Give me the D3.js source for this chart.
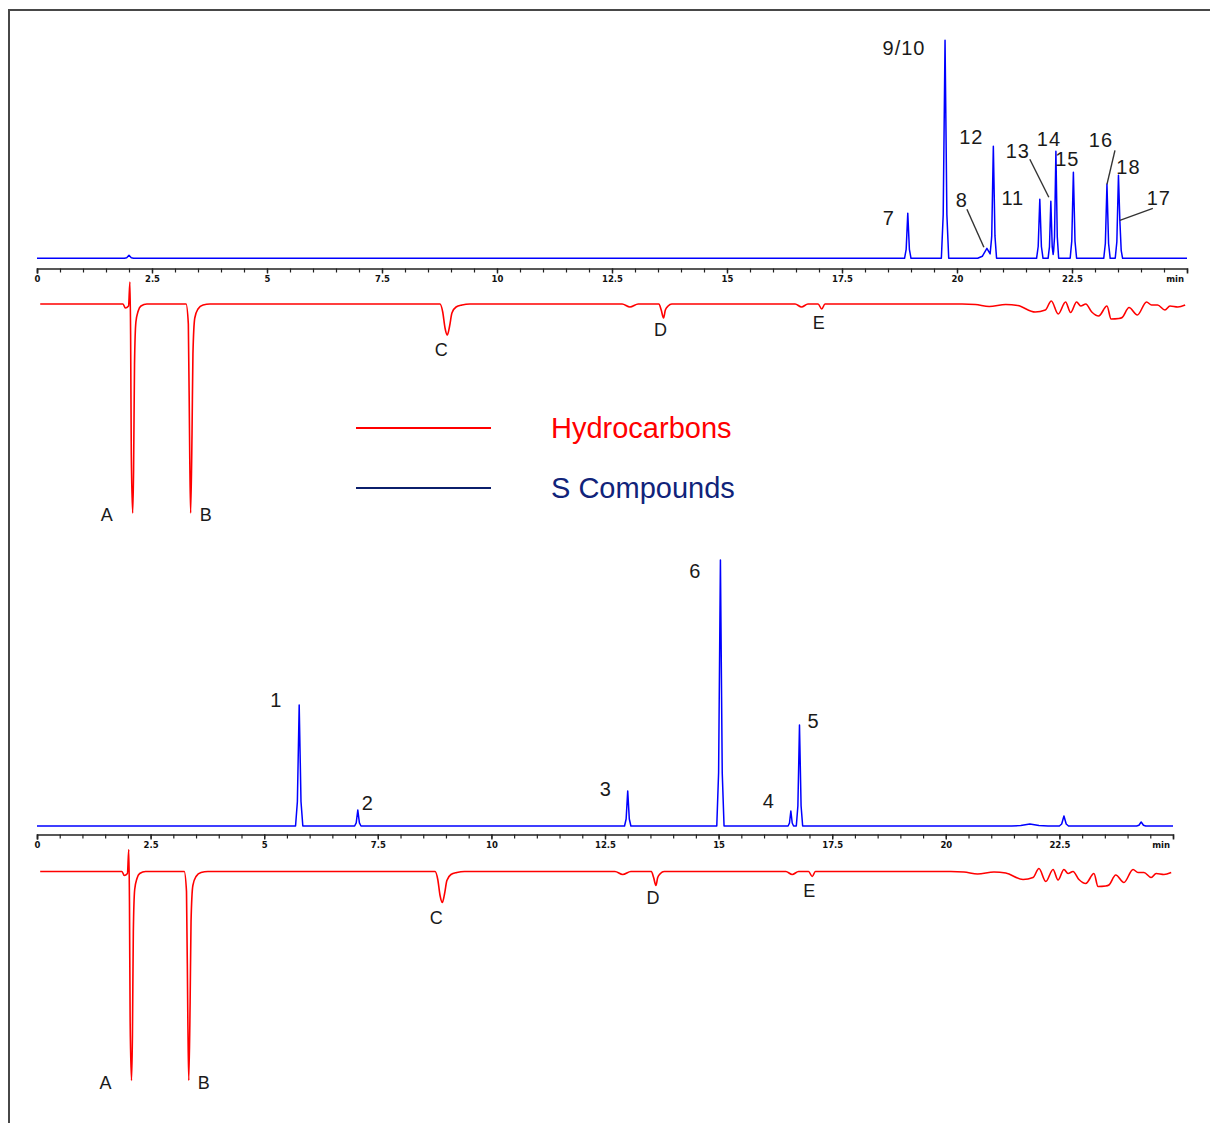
<!DOCTYPE html>
<html>
<head>
<meta charset="utf-8">
<script src="https://cdn.jsdelivr.net/npm/d3@7"></script>
<style>
  body { margin: 0; background: #fff; }
  svg { display: block; }
</style>
</head>
<body>
<svg id="chart" width="1210" height="1123"></svg>
<script>
// ---- retention time axis (minutes) ----
const majorTicks = [0, 2.5, 5, 7.5, 10, 12.5, 15, 17.5, 20, 22.5];
const tickLabels = ["0", "2.5", "5", "7.5", "10", "12.5", "15", "17.5", "20", "22.5"];
const minorTicks = d3.range(0, 25.01, 0.5);
const unitLabel = "min";

// ---- upper run: sulfur channel peaks ----
const upperNames   = ["", "7", "9/10", "8", "12", "11", "13", "14", "15", "16", "18", "17"];
const upperTimes   = [2.0, 18.93, 19.74, 20.65, 20.79, 21.80, 22.04, 22.15, 22.53, 23.26, 23.51, 23.54];
const upperHeights = [3, 45, 218, 10, 112, 59, 57, 107, 86, 74, 83, 38];
const upperWidths  = [0.1, 0.07, 0.08, 0.2, 0.07, 0.07, 0.06, 0.06, 0.07, 0.07, 0.07, 0.06];

// ---- lower run: sulfur channel peaks ----
const lowerNames   = ["1", "2", "3", "6", "4", "5", "", "", ""];
const lowerTimes   = [5.77, 7.06, 13.0, 15.04, 16.59, 16.78, 21.85, 22.6, 24.3];
const lowerHeights = [121, 16, 35, 266, 15, 101, 2, 10, 4];
const lowerWidths  = [0.08, 0.07, 0.07, 0.08, 0.06, 0.07, 0.4, 0.1, 0.1];

// ---- hydrocarbon (FID) trace, plotted inverted ----
const fidTimes = [0.07, 1.87, 1.92, 1.99, 2.02, 2.035, 2.05, 2.08, 2.10, 2.12, 2.15, 2.20, 2.26, 2.39,
  3.24, 3.29, 3.32, 3.34, 3.37, 3.39, 3.43, 3.50, 3.61, 3.76,
  8.76, 8.82, 8.87, 8.92, 8.97, 9.02, 9.11, 9.24, 9.41,
  12.72, 12.89, 13.07,
  13.52, 13.57, 13.62, 13.66, 13.72, 13.80,
  16.48, 16.62, 16.76,
  16.98, 17.06, 17.13,
  20.11, 20.40, 20.70, 21.06, 21.32, 21.70, 21.92, 22.05, 22.20, 22.36, 22.47, 22.60, 22.69, 22.80,
  22.93, 23.08, 23.26, 23.35, 23.52, 23.59, 23.74, 23.92, 24.12, 24.23, 24.36, 24.52, 24.63, 24.80, 24.96];
const fidValues = [0, 0, -4, -2, 22, -30, -150, -209, -165, -60, -18, -7, -2, 0,
  0, -20, -150, -209, -130, -50, -14, -5, -1, 0,
  0, -8, -24, -31, -22, -9, -3, -1, 0,
  0, -3, 0,
  0, -6, -14, -6, -2, 0,
  0, -3, 0,
  0, -5, 0,
  0, -0.5, -2.5, -0.5, -1.5, -8, -6, 3, -10, 2, -8.5, 2, -2, 0,
  -8, -12, -2, -15, -14.5, -13.5, -3.5, -11, 2, -1, -1, -6, -2, -3, -1];
const fidNames = ["A", "B", "C", "D", "E"];
const fidLabelTimes = [2.08, 3.34, 8.92, 13.62, 17.06];
const fidLabelValues = [-209, -209, -31, -14, -5];

// ---- legend ----
const legendNames = ["Hydrocarbons", "S Compounds"];

// ---------------------------------------------------------------
const svg = d3.select("#chart");
const labelFont = "'Liberation Sans', Arial, sans-serif";

// frame
svg.append("rect")
  .attr("x", 9).attr("y", 10).attr("width", 1400).attr("height", 1400)
  .attr("fill", "none").attr("stroke", "#474747").attr("stroke-width", 2);

// narrow peak profile (relative offsets, relative height)
const profOff = [-1, -0.5, 0, 0.5, 1];
const profRel = [0, 0.2, 1, 0.2, 0];

function peakValue(t, c, h, w) {
  const u = (t - c) / w;
  if (u <= -1 || u >= 1) return 0;
  for (let i = 0; i < profOff.length - 1; i++) {
    if (u >= profOff[i] && u <= profOff[i + 1]) {
      const f = (u - profOff[i]) / (profOff[i + 1] - profOff[i]);
      return h * (profRel[i] + f * (profRel[i + 1] - profRel[i]));
    }
  }
  return 0;
}

function buildTrace(times, heights, widths, t0, t1) {
  let ts = [t0, t1];
  times.forEach((c, i) => profOff.forEach(o => ts.push(c + o * widths[i])));
  ts = ts.filter(t => t >= t0 && t <= t1).sort((a, b) => a - b);
  return ts.map(t => [t, d3.max(times, (c, i) => peakValue(t, c, heights[i], widths[i]))]);
}

function drawAxis(x, y) {
  const g = svg.append("g").attr("transform", `translate(0,${y})`);
  // minor ticks
  g.append("g").call(d3.axisBottom(x).tickValues(minorTicks).tickSize(4).tickFormat(""))
    .call(s => s.select(".domain").remove())
    .call(s => s.selectAll("line").attr("stroke", "#222").attr("stroke-width", 1.2));
  // main ticks with labels
  const ax = g.append("g").call(
    d3.axisBottom(x).tickValues(majorTicks).tickSize(5).tickSizeOuter(5)
      .tickFormat((d, i) => tickLabels[i]));
  ax.select(".domain").attr("stroke", "#222").attr("stroke-width", 1.6);
  ax.selectAll(".tick line").attr("stroke", "#222").attr("stroke-width", 1.4);
  ax.selectAll(".tick text")
    .attr("y", 7).attr("font-size", 8.5).attr("font-weight", "bold")
    .attr("font-family", "'DejaVu Sans', sans-serif").attr("fill", "#111");
  g.append("text")
    .attr("x", x(24.74)).attr("y", 13.5)
    .attr("text-anchor", "middle").attr("font-size", 8.5).attr("font-weight", "bold")
    .attr("font-family", "'DejaVu Sans', sans-serif").attr("fill", "#111")
    .text(unitLabel);
}

function drawPanel(cfg) {
  const { x, yS, yF, axisY, names, times, heights, widths, layout, fidLayout } = cfg;

  // sulfur trace
  const trace = buildTrace(times, heights, widths, 0, 25);
  svg.append("path")
    .datum(trace)
    .attr("fill", "none").attr("stroke", "#0000ff").attr("stroke-width", 1.5)
    .attr("stroke-linejoin", "round")
    .attr("d", d3.line().x(d => x(d[0])).y(d => yS(d[1])));

  drawAxis(x, axisY);

  // hydrocarbon trace
  const fid = fidTimes.map((t, i) => [t, fidValues[i]]);
  svg.append("path")
    .datum(fid)
    .attr("fill", "none").attr("stroke", "#ff0000").attr("stroke-width", 1.6)
    .attr("stroke-linejoin", "round")
    .attr("d", d3.line().curve(d3.curveMonotoneX).x(d => x(d[0])).y(d => yF(d[1])));

  // peak labels
  names.forEach((n, i) => {
    if (!n || !layout[n]) return;
    const L = layout[n];
    const px = x(times[i]), py = yS(heights[i]);
    if (L.lead) {
      svg.append("line")
        .attr("x1", px + L.lead[0]).attr("y1", py + L.lead[1])
        .attr("x2", px + (L.tip ? L.tip[0] : 0)).attr("y2", py + (L.tip ? L.tip[1] : 0))
        .attr("stroke", "#333").attr("stroke-width", 1.4);
    }
    svg.append("text")
      .attr("x", px + L.dx).attr("y", py + L.dy)
      .attr("text-anchor", "middle").attr("dominant-baseline", "central")
      .attr("font-family", labelFont).attr("font-size", 20).attr("letter-spacing", 1)
      .attr("fill", "#1a1a1a")
      .text(n);
  });

  fidNames.forEach((n, i) => {
    const L = fidLayout[n];
    svg.append("text")
      .attr("x", x(fidLabelTimes[i]) + L.dx).attr("y", yF(fidLabelValues[i]) + L.dy)
      .attr("text-anchor", "middle").attr("dominant-baseline", "central")
      .attr("font-family", labelFont).attr("font-size", 18).attr("fill", "#1a1a1a")
      .text(n);
  });
}

// label placement around each peak apex (pixels)
const upperLayout = {
  "7":    { dx: -19, dy: 5 },
  "9/10": { dx: -41, dy: 8 },
  "8":    { dx: -25, dy: -48, lead: [-20, -39], tip: [-3, -1] },
  "12":   { dx: -22, dy: -9 },
  "11":   { dx: -27, dy: -1 },
  "13":   { dx: -33, dy: -50, lead: [-21, -42], tip: [-2, -4] },
  "14":   { dx: -7, dy: -12 },
  "15":   { dx: -6, dy: -13 },
  "16":   { dx: -6, dy: -44, lead: [8, -34] },
  "18":   { dx: 10, dy: -8 },
  "17":   { dx: 39, dy: -22, lead: [33, -12] }
};
const lowerLayout = {
  "1": { dx: -23, dy: -5 },
  "2": { dx: 10, dy: -7 },
  "3": { dx: -22, dy: -2 },
  "6": { dx: -25, dy: 11 },
  "4": { dx: -22, dy: -10 },
  "5": { dx: 14, dy: -4 }
};
const fidLayout = {
  "A": { dx: -26, dy: 2 },
  "B": { dx: 15, dy: 2 },
  "C": { dx: -6, dy: 15 },
  "D": { dx: -3, dy: 12 },
  "E": { dx: -3, dy: 14 }
};

// upper panel
const xTop = d3.scaleLinear().domain([0, 25]).range([37, 1187]);
drawPanel({
  x: xTop,
  yS: d3.scaleLinear().domain([0, 230]).range([258.3, 28.3]),
  yF: d3.scaleLinear().domain([-215, 25]).range([304 + 215, 304 - 25]),
  axisY: 268.5,
  names: upperNames, times: upperTimes, heights: upperHeights, widths: upperWidths,
  layout: upperLayout, fidLayout
});

// lower panel
const xBot = d3.scaleLinear().domain([0, 25]).range([37, 1173]);
drawPanel({
  x: xBot,
  yS: d3.scaleLinear().domain([0, 270]).range([826, 556]),
  yF: d3.scaleLinear().domain([-215, 25]).range([871.5 + 215, 871.5 - 25]),
  axisY: 834.5,
  names: lowerNames, times: lowerTimes, heights: lowerHeights, widths: lowerWidths,
  layout: lowerLayout, fidLayout
});

// legend
const legend = svg.append("g");
const legendColors = ["#ff0000", "#10237a"];
const legendLineColors = ["#ff0000", "#0b1f6b"];
legendNames.forEach((n, i) => {
  const yy = 428 + i * 60;
  legend.append("line")
    .attr("x1", 356).attr("x2", 491).attr("y1", yy).attr("y2", yy)
    .attr("stroke", legendLineColors[i]).attr("stroke-width", 2);
  legend.append("text")
    .attr("x", 551).attr("y", yy + 9.5)
    .attr("font-family", labelFont).attr("font-size", 29)
    .attr("fill", legendColors[i])
    .text(n);
});
</script>
</body>
</html>
